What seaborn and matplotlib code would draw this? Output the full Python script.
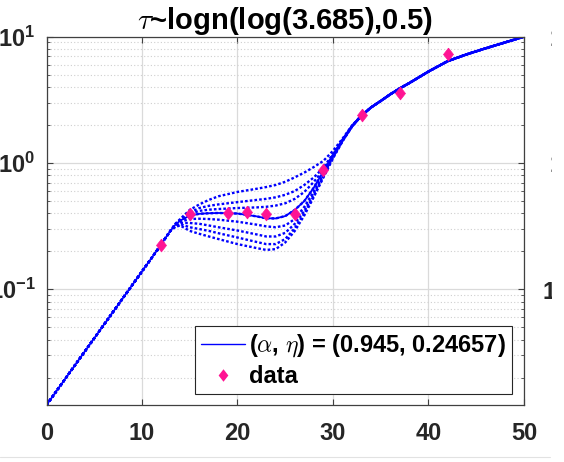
import numpy as np
import pandas as pd
import matplotlib
matplotlib.use("Agg")
import matplotlib.pyplot as plt
import seaborn as sns
from matplotlib.lines import Line2D
from matplotlib.markers import MarkerStyle
from matplotlib.patches import Rectangle
from matplotlib.ticker import LogLocator, NullFormatter, FixedLocator

# ---------------------------------------------------------------- data
# observed counts
obs_t = [12, 15, 19, 21, 23, 26, 29, 33, 37, 42]
obs_y = [0.226, 0.393, 0.404, 0.412, 0.393, 0.393, 0.880, 2.40, 3.60, 7.30]

# shared exponential onset of every model run
t_onset = [0, 12, 12.5, 13]
y_onset = [0.01213, 0.2255, 0.258, 0.292]

# region where the runs differ
t_mid = [13.5, 14, 15, 16, 17, 18, 20, 22, 23, 24, 25, 26, 27, 28, 29, 30, 31, 32, 33]

# best fit run (alpha = 0.945)
y_fit = [0.325, 0.350, 0.383, 0.396, 0.400, 0.402, 0.398, 0.378, 0.365, 0.364,
         0.380, 0.425, 0.500, 0.640, 0.860, 1.16, 1.53, 1.97, 2.38]

# neighbouring alpha runs
y_run1 = [0.330, 0.360, 0.425, 0.470, 0.510, 0.545, 0.590, 0.625, 0.645, 0.670,
          0.710, 0.770, 0.840, 0.930, 1.04, 1.25, 1.56, 1.98, 2.39]
y_run2 = [0.330, 0.355, 0.405, 0.440, 0.458, 0.470, 0.490, 0.510, 0.520, 0.535,
          0.560, 0.600, 0.670, 0.770, 0.920, 1.18, 1.54, 1.97, 2.38]
y_run3 = [0.328, 0.352, 0.395, 0.418, 0.427, 0.432, 0.440, 0.445, 0.450, 0.460,
          0.480, 0.520, 0.590, 0.710, 0.880, 1.15, 1.52, 1.96, 2.38]
y_run4 = [0.322, 0.342, 0.360, 0.362, 0.360, 0.356, 0.343, 0.325, 0.315, 0.310,
          0.320, 0.360, 0.450, 0.600, 0.820, 1.13, 1.51, 1.96, 2.38]
y_run5 = [0.318, 0.335, 0.335, 0.330, 0.320, 0.310, 0.292, 0.272, 0.262, 0.262,
          0.280, 0.330, 0.420, 0.570, 0.800, 1.11, 1.50, 1.95, 2.38]
y_run6 = [0.315, 0.328, 0.310, 0.300, 0.290, 0.278, 0.257, 0.237, 0.228, 0.228,
          0.250, 0.305, 0.400, 0.550, 0.780, 1.10, 1.49, 1.95, 2.38]
y_run7 = [0.312, 0.320, 0.290, 0.275, 0.262, 0.250, 0.228, 0.212, 0.205, 0.208,
          0.235, 0.290, 0.385, 0.540, 0.770, 1.09, 1.49, 1.95, 2.38]

# shared late growth of every run
t_late = [34, 35, 36, 37, 38, 40, 42, 44, 46, 48, 50]
y_late = [2.76, 3.10, 3.50, 3.90, 4.30, 5.30, 6.40, 7.25, 8.10, 9.00, 10.0]

alpha_fit, eta_fit = 0.945, 0.24657
tau_median, tau_sigma = 3.685, 0.5

x_ticks = [0, 10, 20, 30, 40, 50]

# ---------------------------------------------------------------- style
sns.set_theme(style="white")
plt.rcParams["font.family"] = ["Liberation Sans", "DejaVu Sans"]
plt.rcParams["font.weight"] = "bold"
plt.rcParams["mathtext.fontset"] = "cm"

BLUE = "#0000ff"
PINK = "#ff1493"
AX_COL = "#404040"
GRID_COL = "#dadada"
TICK_FS = 17

fig = plt.figure(figsize=(5.64, 4.62), dpi=100)
W, H = 564.0, 462.0
ax = fig.add_axes([46.5 / W, 1 - 405 / H, (524 - 46.5) / W, (405 - 36.7) / H])


def full_run(y_mid):
    t = np.concatenate([t_onset, t_mid, t_late])
    y = np.concatenate([y_onset, y_mid, y_late])
    return t, y


runs = [y_run1, y_run2, y_run3, y_fit, y_run4, y_run5, y_run6, y_run7]
for y_mid in runs:
    t, y = full_run(y_mid)
    sns.lineplot(x=t, y=y, ax=ax, color=BLUE, lw=1.7,
                 linestyle=(0, (1.1, 0.9)), sort=False, estimator=None)

t, y = full_run(y_fit)
sns.lineplot(x=t, y=y, ax=ax, color=BLUE, lw=1.3, sort=False, estimator=None)

diamond = MarkerStyle([(0, 1), (0.78, 0), (0, -1), (-0.78, 0), (0, 1)])
sns.scatterplot(x=obs_t, y=obs_y, ax=ax, marker=diamond, s=85,
                color=PINK, edgecolor=PINK, linewidth=0.5, zorder=5)

# ---------------------------------------------------------------- axes
ax.set_yscale("log")
ax.set_xlim(0, 50)
ax.set_ylim(0.01213, 10)
ax.set_xticks(x_ticks)
ax.set_xticklabels([str(v) for v in x_ticks])
ax.xaxis.set_minor_locator(FixedLocator([]))
ax.yaxis.set_major_locator(LogLocator(base=10))
ax.yaxis.set_minor_locator(LogLocator(base=10, subs=np.arange(2, 10)))
ax.yaxis.set_minor_formatter(NullFormatter())

ax.grid(True, which="major", color=GRID_COL, lw=0.9, ls="-")
ax.grid(True, which="minor", axis="y", color="#cfcfcf", lw=0.8, ls=(0, (1, 2)))
ax.set_axisbelow(True)

for sp in ax.spines.values():
    sp.set_color(AX_COL)
    sp.set_linewidth(0.9)
    sp.set_visible(True)

ax.tick_params(which="both", direction="in", top=True, right=True,
               bottom=True, left=True, color=AX_COL, labelcolor="#262626")
ax.tick_params(which="major", length=4, width=0.8, labelsize=TICK_FS)
ax.tick_params(which="minor", length=2.5, width=0.6)
ax.tick_params(axis="x", which="major", pad=12)
ax.tick_params(axis="y", which="major", pad=8)
ax.set_xlabel("")
ax.set_ylabel("")

ax.set_title(r"$\tau$~logn(log(%.3f),%.1f)" % (tau_median, tau_sigma),
             fontsize=21, fontweight="bold", pad=2, color="#000000")

handles = [
    Line2D([], [], color=BLUE, lw=1.0),
    Line2D([], [], color=PINK, marker=diamond, ls="none", markersize=9,
           markeredgewidth=0),
]
labels = [r"($\alpha$, $\eta$) = (%.3f, %.5f)" % (alpha_fit, eta_fit), "data"]
leg = ax.legend(handles, labels, loc="lower right", bbox_to_anchor=(0.975, 0.03),
                fontsize=17, frameon=True, fancybox=False, framealpha=1,
                edgecolor="#262626", handlelength=1.85, handletextpad=0.2,
                borderpad=0.25, labelspacing=0.25, borderaxespad=0)
leg.get_frame().set_linewidth(0.8)
for txt in leg.get_texts():
    txt.set_fontweight("bold")
    txt.set_color("#000000")

# tick labels of the neighbouring panel at the right border
for ypx, lab, xpx in [(36.7, r"$\mathdefault{10^{1}}$", 549),
                      (162.7, r"$\mathdefault{10^{0}}$", 549),
                      (289.3, r"$\mathdefault{10^{-1}}$", 541.5)]:
    fig.text(xpx / W, 1 - ypx / H, lab, fontsize=TICK_FS, fontweight="bold",
             ha="left", va="center_baseline", color="#262626")
fig.add_artist(Rectangle((551.5 / W, 0), (W - 551.5) / W, 1,
                         transform=fig.transFigure, facecolor="white",
                         edgecolor="none", zorder=10))
fig.add_artist(Line2D([0, 550 / W], [1 - 457 / H, 1 - 457 / H],
                      transform=fig.transFigure, color="#e2e2e2", lw=0.8))

fig.savefig("out.png", dpi=100)
